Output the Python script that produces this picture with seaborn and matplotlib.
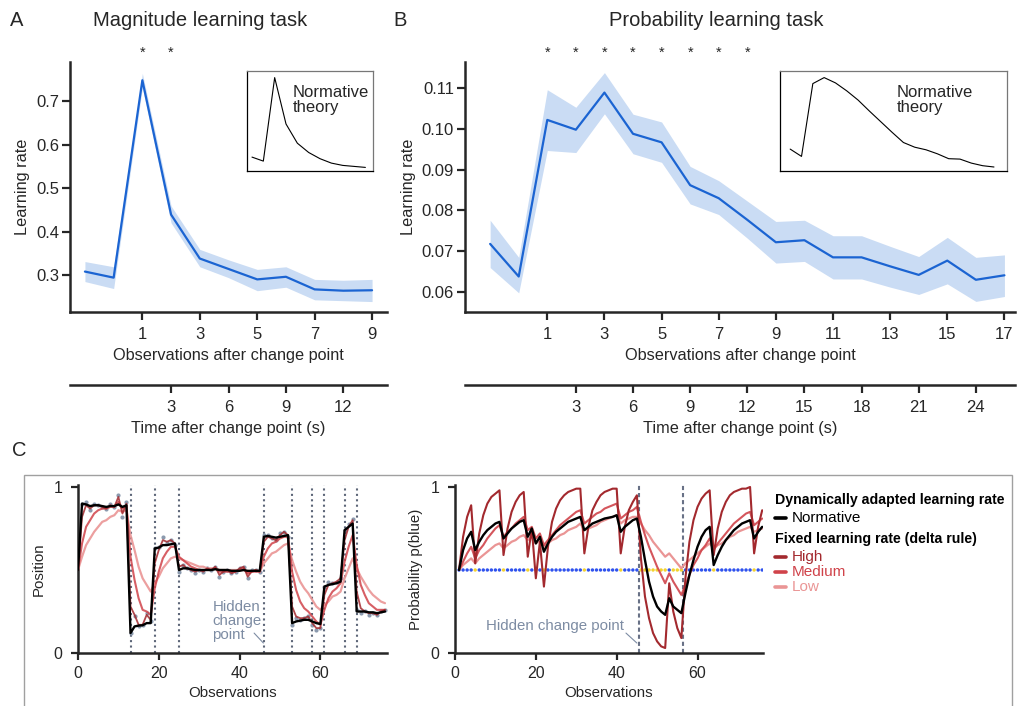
import matplotlib
matplotlib.use('Agg')
import matplotlib.pyplot as plt
import seaborn as sns
from matplotlib.lines import Line2D
from matplotlib.patches import Rectangle

sns.set_style('ticks')
plt.rcParams['font.family'] = ['Liberation Sans', 'DejaVu Sans']

# ------------------------------------------------------------------
# Panel A: magnitude learning task
# ------------------------------------------------------------------
mag_obs = [-1, 0, 1, 2, 3, 4, 5, 6, 7, 8, 9]
mag_rate = [0.308, 0.294, 0.748, 0.439, 0.338, 0.314, 0.290, 0.296, 0.267, 0.264, 0.265]
mag_lower = [0.285, 0.269, 0.731, 0.420, 0.319, 0.294, 0.264, 0.272, 0.243, 0.241, 0.239]
mag_upper = [0.331, 0.319, 0.764, 0.459, 0.359, 0.335, 0.313, 0.319, 0.290, 0.288, 0.290]
mag_theory = [0.139, 0.099, 0.934, 0.470, 0.278, 0.185, 0.123, 0.079, 0.056, 0.046, 0.036]
mag_signif = [1, 2]
mag_xticks = [1, 3, 5, 7, 9]
mag_yticks = [0.3, 0.4, 0.5, 0.6, 0.7]
mag_time_ticks = [3, 6, 9, 12]

# ------------------------------------------------------------------
# Panel B: probability learning task
# ------------------------------------------------------------------
prob_obs = list(range(-1, 18))
prob_rate = [0.0718, 0.0638, 0.1022, 0.0998, 0.1089, 0.0988, 0.0967, 0.0862, 0.0830, 0.0777,
             0.0722, 0.0727, 0.0685, 0.0685, 0.0663, 0.0642, 0.0677, 0.0630, 0.0641]
prob_lower = [0.0660, 0.0598, 0.0947, 0.0942, 0.1037, 0.0939, 0.0918, 0.0816, 0.0790, 0.0732,
              0.0671, 0.0675, 0.0632, 0.0632, 0.0612, 0.0594, 0.0620, 0.0577, 0.0589]
prob_upper = [0.0776, 0.0685, 0.1096, 0.1053, 0.1138, 0.1036, 0.1017, 0.0908, 0.0873, 0.0823,
              0.0773, 0.0776, 0.0738, 0.0738, 0.0712, 0.0687, 0.0734, 0.0685, 0.0691]
prob_theory = [0.219, 0.146, 0.874, 0.934, 0.881, 0.801, 0.709, 0.599, 0.493, 0.387,
               0.285, 0.238, 0.212, 0.172, 0.123, 0.119, 0.079, 0.053, 0.040]
prob_signif = [1, 2, 3, 4, 5, 6, 7, 8]
prob_xticks = [1, 3, 5, 7, 9, 11, 13, 15, 17]
prob_yticks = [0.06, 0.07, 0.08, 0.09, 0.10, 0.11]
prob_time_ticks = [3, 6, 9, 12, 15, 18, 21, 24]

SEC_PER_OBS = 1.5

# ------------------------------------------------------------------
# Panel C left: position (magnitude) example
# ------------------------------------------------------------------
pos_x = list(range(0, 77))
pos_obs_x = list(range(1, 77))
pos_obs = [0.90, 0.91, 0.86, 0.90, 0.89, 0.88, 0.87, 0.90, 0.88, 0.95, 0.82, 0.91,
           0.12, 0.22, 0.16, 0.17, 0.24, 0.19,
           0.63, 0.64, 0.70, 0.66, 0.68, 0.65,
           0.49, 0.53, 0.51, 0.50, 0.48, 0.50, 0.49, 0.51, 0.50, 0.52, 0.46, 0.49, 0.50, 0.48,
           0.49, 0.51, 0.52, 0.45, 0.50, 0.50, 0.49,
           0.71, 0.71, 0.69, 0.68, 0.72, 0.73, 0.70,
           0.17, 0.21, 0.20, 0.21, 0.22, 0.17, 0.14, 0.15,
           0.40, 0.43, 0.42, 0.43, 0.45,
           0.74, 0.78, 0.81,
           0.26, 0.24, 0.25, 0.23, 0.24, 0.23, 0.25, 0.26]
pos_normative = [0.50,
                 0.90, 0.895, 0.885, 0.89, 0.89, 0.885, 0.88, 0.885, 0.885, 0.895, 0.88, 0.89,
                 0.12, 0.16, 0.165, 0.167, 0.18, 0.18,
                 0.63, 0.635, 0.65, 0.65, 0.655, 0.66,
                 0.50, 0.51, 0.51, 0.505, 0.50, 0.50, 0.50, 0.50, 0.50, 0.505, 0.50, 0.50, 0.50,
                 0.495, 0.495, 0.495, 0.50, 0.495, 0.495, 0.495, 0.495,
                 0.70, 0.705, 0.70, 0.695, 0.70, 0.705, 0.71,
                 0.18, 0.19, 0.195, 0.20, 0.20, 0.19, 0.18, 0.175,
                 0.40, 0.41, 0.415, 0.42, 0.43,
                 0.74, 0.76, 0.78,
                 0.25, 0.25, 0.25, 0.245, 0.245, 0.24, 0.245, 0.25]
pos_high = [0.50,
            0.82, 0.89, 0.87, 0.89, 0.89, 0.88, 0.87, 0.89, 0.88, 0.94, 0.84, 0.90,
            0.28, 0.23, 0.17, 0.17, 0.23, 0.20,
            0.54, 0.62, 0.68, 0.67, 0.68, 0.66,
            0.52, 0.53, 0.51, 0.50, 0.49, 0.50, 0.49, 0.51, 0.50, 0.52, 0.47, 0.49, 0.50, 0.48,
            0.49, 0.51, 0.52, 0.46, 0.49, 0.50, 0.49,
            0.67, 0.70, 0.69, 0.68, 0.71, 0.73, 0.71,
            0.28, 0.22, 0.21, 0.21, 0.22, 0.18, 0.15, 0.15,
            0.35, 0.41, 0.42, 0.43, 0.45,
            0.68, 0.76, 0.80,
            0.37, 0.27, 0.25, 0.24, 0.24, 0.23, 0.25, 0.26]
pos_medium = [0.50,
              0.66, 0.76, 0.80, 0.84, 0.86, 0.87, 0.87, 0.88, 0.88, 0.91, 0.87, 0.89,
              0.58, 0.44, 0.33, 0.26, 0.25, 0.23,
              0.39, 0.49, 0.57, 0.61, 0.64, 0.64,
              0.58, 0.56, 0.54, 0.52, 0.51, 0.50, 0.50, 0.50, 0.50, 0.51, 0.49, 0.49, 0.49, 0.49,
              0.49, 0.50, 0.51, 0.48, 0.49, 0.49, 0.49,
              0.58, 0.63, 0.66, 0.67, 0.69, 0.70, 0.70,
              0.49, 0.38, 0.31, 0.27, 0.25, 0.22, 0.19, 0.17,
              0.26, 0.33, 0.37, 0.39, 0.42,
              0.55, 0.64, 0.71,
              0.53, 0.41, 0.35, 0.30, 0.28, 0.26, 0.26, 0.26]
pos_low = [0.50,
           0.58, 0.65, 0.69, 0.73, 0.76, 0.79, 0.80, 0.82, 0.83, 0.86, 0.85, 0.86,
           0.71, 0.62, 0.52, 0.45, 0.41, 0.37,
           0.42, 0.46, 0.51, 0.54, 0.57, 0.58,
           0.57, 0.56, 0.55, 0.54, 0.53, 0.52, 0.52, 0.51, 0.51, 0.51, 0.50, 0.50, 0.50, 0.50,
           0.50, 0.50, 0.50, 0.49, 0.49, 0.50, 0.49,
           0.54, 0.57, 0.60, 0.61, 0.63, 0.65, 0.66,
           0.56, 0.49, 0.43, 0.39, 0.36, 0.32, 0.28, 0.26,
           0.29, 0.31, 0.34, 0.35, 0.37,
           0.45, 0.51, 0.57,
           0.51, 0.46, 0.42, 0.38, 0.35, 0.33, 0.31, 0.30]
pos_change_points = [13, 19, 25, 46, 53, 58, 61, 66, 69]

# ------------------------------------------------------------------
# Panel C right: probability (blue / yellow) example
# ------------------------------------------------------------------
bead_x = list(range(1, 77))
yellow_trials = [5, 12, 18, 20, 22, 32, 41, 46, 47, 48, 49, 50, 51, 52, 54, 55, 56, 64, 74]
bead_normative = [0.50, 0.62, 0.69, 0.73,
                  0.62, 0.67, 0.71, 0.74, 0.76, 0.78, 0.79,
                  0.69, 0.72, 0.75, 0.77, 0.79, 0.80,
                  0.70, 0.75, 0.66, 0.70, 0.61,
                  0.66, 0.70, 0.73, 0.75, 0.77, 0.79, 0.80, 0.81, 0.82,
                  0.74, 0.76, 0.78, 0.79, 0.80, 0.81, 0.815, 0.82, 0.83,
                  0.73, 0.76, 0.78, 0.80, 0.81,
                  0.70, 0.56, 0.43, 0.34, 0.28, 0.25, 0.23,
                  0.33, 0.28, 0.26, 0.24,
                  0.36, 0.47, 0.56, 0.64, 0.70, 0.74, 0.76,
                  0.53, 0.59, 0.64, 0.68, 0.71, 0.74, 0.76, 0.78, 0.79, 0.80,
                  0.69, 0.73, 0.76]
bead_high = [0.50, 0.70, 0.82, 0.89,
             0.54, 0.72, 0.83, 0.90, 0.94, 0.96, 0.98,
             0.59, 0.75, 0.85, 0.91, 0.95, 0.97,
             0.58, 0.75, 0.45, 0.67, 0.40,
             0.64, 0.79, 0.87, 0.92, 0.95, 0.97, 0.98, 0.99, 0.99,
             0.60, 0.76, 0.86, 0.91, 0.95, 0.97, 0.98, 0.99, 0.99,
             0.60, 0.76, 0.86, 0.91, 0.95,
             0.57, 0.34, 0.21, 0.12, 0.07, 0.04, 0.03,
             0.42, 0.25, 0.15, 0.09,
             0.45, 0.67, 0.80, 0.88, 0.93, 0.96, 0.98,
             0.59, 0.75, 0.85, 0.91, 0.95, 0.97, 0.98, 0.99, 0.99, 1.00,
             0.60, 0.76, 0.86]
bead_medium = [0.50, 0.55, 0.60, 0.64,
               0.57, 0.62, 0.65, 0.69, 0.72, 0.75, 0.77,
               0.70, 0.73, 0.75, 0.78, 0.80, 0.82,
               0.74, 0.76, 0.69, 0.72, 0.65,
               0.68, 0.71, 0.74, 0.77, 0.79, 0.81, 0.83, 0.85, 0.86,
               0.78, 0.80, 0.82, 0.84, 0.85, 0.87, 0.88, 0.89, 0.90,
               0.81, 0.83, 0.85, 0.86, 0.88,
               0.79, 0.71, 0.64, 0.58, 0.52, 0.47, 0.42,
               0.48, 0.43, 0.39, 0.35,
               0.41, 0.47, 0.53, 0.57, 0.62, 0.65, 0.69,
               0.62, 0.66, 0.69, 0.72, 0.75, 0.78, 0.80, 0.82, 0.84, 0.85,
               0.77, 0.79, 0.81]
bead_low = [0.50, 0.53, 0.55, 0.57,
            0.54, 0.57, 0.59, 0.61, 0.63, 0.65, 0.66,
            0.63, 0.65, 0.67, 0.68, 0.70, 0.71,
            0.68, 0.70, 0.66, 0.68, 0.64,
            0.66, 0.68, 0.69, 0.71, 0.72, 0.74, 0.75, 0.76, 0.78,
            0.74, 0.75, 0.76, 0.77, 0.79, 0.80, 0.81, 0.82, 0.83,
            0.78, 0.80, 0.81, 0.82, 0.82,
            0.78, 0.74, 0.71, 0.67, 0.64, 0.61, 0.58,
            0.60, 0.57, 0.54, 0.51,
            0.54, 0.56, 0.58, 0.60, 0.62, 0.64, 0.66,
            0.63, 0.65, 0.66, 0.68, 0.70, 0.71, 0.73, 0.74, 0.75, 0.76,
            0.73, 0.74, 0.75]
bead_change_points = [45.5, 56.4]

# ------------------------------------------------------------------
# colours
# ------------------------------------------------------------------
LINE_BLUE = '#1b64d2'
BAND_BLUE = '#cadcf4'
HIGH = '#a3292e'
MEDIUM = '#d0434a'
LOW = '#ea9595'
CP_GREY = '#5d6678'
HINT = '#7d8ca3'
DOT_GREY = '#8b9aae'
BEAD_COLOURS = {'blue': '#2f52ee', 'yellow': '#f3d22e'}

W, H = 1018, 706


def fig_rect(left, top, right, bottom):
    return [left / W, 1 - bottom / H, (right - left) / W, (bottom - top) / H]


fig = plt.figure(figsize=(W / 100, H / 100), dpi=100)


def learning_panel(rect, obs, rate, lower, upper, xticks, yticks, xlim, ylim,
                   time_ticks, signif, yfmt, outward_px):
    ax = fig.add_axes(rect)
    ax.fill_between(obs, lower, upper, color=BAND_BLUE, lw=0)
    sns.lineplot(x=obs, y=rate, ax=ax, color=LINE_BLUE, lw=1.6)
    ax.set_xlim(*xlim)
    ax.set_ylim(*ylim)
    ax.set_xticks(xticks)
    ax.set_yticks(yticks)
    ax.set_yticklabels([yfmt.format(v) for v in yticks])
    sns.despine(ax=ax)
    for s in ['left', 'bottom']:
        ax.spines[s].set_linewidth(1.8)
    ax.tick_params(direction='out', length=6, width=1.6, labelsize=12, pad=2)
    ax.tick_params(axis='x', pad=5)
    ax.set_xlabel('Observations after change point', fontsize=11.7, labelpad=4)
    ax.set_ylabel('Learning rate', fontsize=11.7, labelpad=4)
    for s in signif:
        ax.text(s, 1.035, '*', transform=ax.get_xaxis_transform(),
                ha='center', va='center', fontsize=10.5)
    height_px = rect[3] * H
    sec = ax.secondary_xaxis(-outward_px / height_px,
                             functions=(lambda x: x * SEC_PER_OBS, lambda t: t / SEC_PER_OBS))
    sec.set_xticks(time_ticks)
    sec.spines['bottom'].set_linewidth(1.8)
    sec.tick_params(direction='out', length=6, width=1.6, labelsize=12, pad=5)
    sec.set_xlabel('Time after change point (s)', fontsize=11.7, labelpad=4)
    return ax


def theory_inset(rect, obs, theory, xlim, text_x):
    ax = fig.add_axes(rect)
    sns.lineplot(x=obs, y=theory, ax=ax, color='black', lw=0.8)
    ax.set_xlim(*xlim)
    ax.set_ylim(0, 1)
    ax.set_xticks([])
    ax.set_yticks([])
    ax.set_xlabel('')
    ax.set_ylabel('')
    for s in ['left', 'bottom']:
        ax.spines[s].set_linewidth(0.9)
        ax.spines[s].set_color('black')
    for s in ['top', 'right']:
        ax.spines[s].set_linewidth(0.9)
        ax.spines[s].set_color('#777777')
    ax.text(text_x, 0.86, 'Normative\ntheory', transform=ax.transAxes,
            ha='left', va='top', fontsize=12, linespacing=1.0)
    return ax


axA = learning_panel(fig_rect(70, 62, 387, 312), mag_obs, mag_rate, mag_lower, mag_upper,
                     mag_xticks, mag_yticks, (-1.52, 9.52), (0.215, 0.79),
                     mag_time_ticks, mag_signif, '{:.1f}', 73)
theory_inset(fig_rect(247, 71, 373, 171), mag_obs, mag_theory, (-1.44, 9.67), 0.36)

axB = learning_panel(fig_rect(465, 62, 1015, 312), prob_obs, prob_rate, prob_lower, prob_upper,
                     prob_xticks, prob_yticks, (-1.88, 17.37), (0.0551, 0.1164),
                     prob_time_ticks, prob_signif, '{:.2f}', 73)
theory_inset(fig_rect(780, 71, 1007, 171), prob_obs, prob_theory, (-1.9, 18.15), 0.515)

fig.text(10 / W, 1 - 20 / H, 'A', fontsize=14.5, ha='left', va='center')
fig.text(393 / W, 1 - 20 / H, 'B', fontsize=14.5, ha='left', va='center')
fig.text(12 / W, 1 - 450 / H, 'C', fontsize=14.5, ha='left', va='center')
fig.text(200 / W, 1 - 20 / H, 'Magnitude learning task', fontsize=14.5, ha='center', va='center')
fig.text(716 / W, 1 - 20 / H, 'Probability learning task', fontsize=14.5, ha='center', va='center')

# frame around panel C (bottom edge runs off the figure)
fig.add_artist(Rectangle((24 / W, -0.05), (1012 - 24) / W, 1.05 - 475 / H,
                         transform=fig.transFigure, fill=False, ec='#a0a0a0', lw=1.0))


def style_example(ax, xlim, ylabel):
    ax.set_xlim(*xlim)
    ax.set_ylim(0, 1.012)
    ax.set_xticks([0, 20, 40, 60])
    ax.set_yticks([0, 1])
    sns.despine(ax=ax)
    for s in ['left', 'bottom']:
        ax.spines[s].set_linewidth(1.8)
    ax.tick_params(direction='out', length=5, width=1.6, labelsize=11.5)
    ax.tick_params(axis='y', pad=6)
    ax.tick_params(axis='x', pad=4)
    ax.set_xlabel('Observations', fontsize=10.8, labelpad=4)
    ax.set_ylabel(ylabel, fontsize=10.8, labelpad=6)


# C left
axL = fig.add_axes(fig_rect(78, 485, 387, 653))
for cp in pos_change_points:
    axL.axvline(cp, color=CP_GREY, lw=1.5, ls=(0, (1, 1.6)), zorder=1)
sns.scatterplot(x=pos_obs_x, y=pos_obs, ax=axL, color=DOT_GREY, s=9, lw=0, zorder=2)
sns.lineplot(x=pos_x, y=pos_low, ax=axL, color=LOW, lw=1.6, alpha=0.9, zorder=3)
sns.lineplot(x=pos_x, y=pos_medium, ax=axL, color=MEDIUM, lw=1.5, alpha=0.85, zorder=4)
sns.lineplot(x=pos_x, y=pos_high, ax=axL, color=HIGH, lw=1.3, alpha=0.85, zorder=5)
sns.lineplot(x=pos_x, y=pos_normative, ax=axL, color='black', lw=1.7, zorder=6)
style_example(axL, (0, 76.5), 'Position')
axL.text(33.3, 0.19, 'Hidden\nchange\npoint', color=HINT, fontsize=10.8, ha='left',
         va='center', linespacing=1.0)
axL.plot([43.6, 45.9], [0.12, 0.06], color=HINT, lw=0.8)

# C right
axR = fig.add_axes(fig_rect(455, 485, 763, 653))
for cp in bead_change_points:
    axR.axvline(cp, color='#687186', lw=1.5, ls=(0, (2, 1.4)), zorder=1)
bead_colour = ['yellow' if t in yellow_trials else 'blue' for t in bead_x]
sns.scatterplot(x=bead_x, y=[0.5] * len(bead_x), hue=bead_colour, palette=BEAD_COLOURS,
                ax=axR, s=6, lw=0, legend=False, zorder=2)
sns.lineplot(x=bead_x, y=bead_low, ax=axR, color=LOW, lw=1.6, zorder=3)
sns.lineplot(x=bead_x, y=bead_medium, ax=axR, color=MEDIUM, lw=1.5, alpha=0.9, zorder=4)
sns.lineplot(x=bead_x, y=bead_high, ax=axR, color=HIGH, lw=1.5, zorder=5)
sns.lineplot(x=bead_x, y=bead_normative, ax=axR, color='black', lw=1.7, zorder=6)
style_example(axR, (0, 76.2), 'Probability p(blue)')
axR.text(41.8, 0.16, 'Hidden change point', color=HINT, fontsize=10.8, ha='right', va='center')
axR.plot([42.3, 45.0], [0.12, 0.06], color=HINT, lw=0.8)

# legend for panel C
legend_rows = [
    (500, 'Dynamically adapted learning rate', 'black', True, None),
    (518, 'Normative', 'black', False, 'black'),
    (539, 'Fixed learning rate (delta rule)', 'black', True, None),
    (557, 'High', HIGH, False, HIGH),
    (572, 'Medium', MEDIUM, False, MEDIUM),
    (587, 'Low', LOW, False, LOW),
]
for y, label, colour, bold, handle in legend_rows:
    if handle is None:
        fig.text(775 / W, 1 - y / H, label, fontsize=10.2, fontweight='bold',
                 color=colour, ha='left', va='center')
    else:
        fig.add_artist(Line2D([775 / W, 786 / W], [1 - y / H, 1 - y / H],
                              transform=fig.transFigure, color=handle, lw=2.6))
        fig.text(792 / W, 1 - y / H, label, fontsize=11, color=colour,
                 ha='left', va='center')

fig.savefig('out.png', dpi=100)
